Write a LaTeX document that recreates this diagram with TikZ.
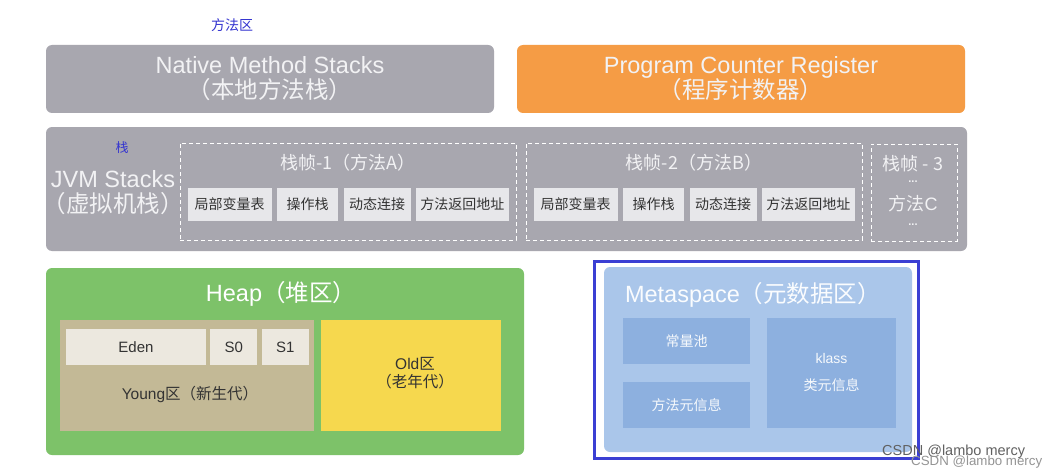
\documentclass[tikz,border=0pt]{standalone}
\usepackage{fontspec}
\setmainfont{Liberation Sans}
\newfontfamily\cjk{Noto Sans CJK SC}
\newcommand{\zh}[1]{{\cjk #1}}
\usepackage{tikz}
\usetikzlibrary{positioning}
\usepackage{xcolor}

\definecolor{boxgray}{HTML}{A8A7AF}
\definecolor{pcorange}{HTML}{F59C45}
\definecolor{heapgreen}{HTML}{7DC269}
\definecolor{younggray}{HTML}{C3B996}
\definecolor{edenfill}{HTML}{ECE8DF}
\definecolor{oldyellow}{HTML}{F6D84E}
\definecolor{metafill}{HTML}{AAC6EA}
\definecolor{metabox}{HTML}{8DB0DF}
\definecolor{frameblue}{HTML}{3B3FD3}
\definecolor{slotfill}{HTML}{E7E7EA}
\definecolor{labelblue}{HTML}{3535D0}
\definecolor{textlight}{HTML}{F2F2F4}

\begin{document}
\begin{tikzpicture}[x=1pt,y=-1pt,
  region/.style={rounded corners=6pt,inner sep=0pt,align=center,text=textlight},
  bigtext/.style={font=\fontsize{23.5}{25}\selectfont},
  stackframe/.style={draw=white,dash pattern=on 4pt off 3pt,line width=1pt,inner sep=0pt,minimum height=97pt},
  frametitle/.style={text=textlight,inner sep=0pt,font=\cjk\fontsize{18}{18}\selectfont},
  framedots/.style={text=textlight,inner sep=0pt,font=\bfseries\fontsize{11}{11}\selectfont},
  frameslot/.style={fill=slotfill,inner sep=0pt,minimum height=33pt,text=black!80,font=\cjk\fontsize{14}{14}\selectfont},
  genbox/.style={fill=edenfill,inner sep=0pt,minimum height=36pt,text=black!80,font=\fontsize{15}{15}\selectfont},
  metaslot/.style={fill=metabox,inner sep=0pt,text=white!92!metabox,align=center,font=\cjk\fontsize{14}{27}\selectfont},
  bluelabel/.style={text=labelblue,inner sep=0pt,font=\cjk\fontsize{14}{14}\selectfont}]
  \useasboundingbox (0,0) rectangle (1056,468);
  \fill[white] (0,0) rectangle (1056,468);

  % top row
  \node[bluelabel] (methodarea) at (232,25) {方法区};
  \node[region,bigtext,fill=boxgray,minimum width=448pt,minimum height=68pt] (native) at (270,79)
    {Native Method Stacks\\\zh{（本地方法栈）}};
  \node[region,bigtext,fill=pcorange,minimum width=448pt,minimum height=68pt] (pcr) at (741,79)
    {Program Counter Register\\\zh{（程序计数器）}};

  % JVM stacks
  \node[region,fill=boxgray,minimum width=921pt,minimum height=124pt] (jvm) at (506.5,189) {};
  \node[bluelabel,font=\cjk\fontsize{13}{13}\selectfont] (stacklabel) at (122,148) {栈};
  \node[region,bigtext] (jvmtext) at (113,193) {JVM Stacks\\\zh{（虚拟机栈）}};
  \foreach \i/\x/\m in {1/348/A,2/694/B}{
    \node[stackframe,minimum width=336pt] (frame\i) at (\x,191.5) {};
    \node[frametitle] (ftitle\i) at ([yshift=-20pt]frame\i.north) {栈帧-\i（方法\m）};
    \node[frameslot,minimum width=84pt,anchor=west] (local\i) at ([xshift=8pt,yshift=-13pt]frame\i.west) {局部变量表};
    \node[frameslot,minimum width=61pt,right=5pt of local\i] (oper\i) {操作栈};
    \node[frameslot,minimum width=67pt,right=5pt of oper\i] (link\i) {动态连接};
    \node[frameslot,minimum width=93pt,right=5pt of link\i] (ret\i) {方法返回地址};
  }
  \node[stackframe,minimum width=86pt] (frame3) at (914,192.5) {};
  \node[frametitle] (ftitle3) at (913,164) {栈帧 - 3};
  \node[framedots] (fdots1) at (913,182) {...};
  \node[frametitle] (fname3) at (913,204) {方法\textrm{C}};
  \node[framedots] (fdots2) at (913,225) {...};

  % heap
  \node[region,fill=heapgreen,minimum width=478pt,minimum height=187pt] (heap) at (285,361.5) {};
  \node[region,bigtext,text=white] (heaptitle) at (281,294) {Heap\zh{（堆区）}};
  \node[fill=younggray,inner sep=0pt,minimum width=254pt,minimum height=111pt] (young) at (187,375.5) {};
  \node[genbox,minimum width=140pt] (eden) at (136,347) {Eden};
  \node[genbox,minimum width=47pt,right=4pt of eden] (szero) {S0};
  \node[genbox,minimum width=47pt,right=4pt of szero] (sone) {S1};
  \node[inner sep=0pt,text=black!80,font=\fontsize{15.5}{15.5}\selectfont] (younglabel) at (190,394)
    {Young\zh{区（新生代）}};
  \node[fill=oldyellow,inner sep=0pt,minimum width=180pt,minimum height=111pt] (old) at (411,375.5) {};
  \node[inner sep=0pt,align=center,text=black!80,font=\fontsize{15.5}{18}\selectfont] (oldlabel) at (415,373)
    {Old\zh{区}\\\zh{（老年代）}};

  % metaspace
  \node[region,fill=metafill,minimum width=308pt,minimum height=185pt] (meta) at (758,359.5) {};
  \node[draw=frameblue,line width=3pt,inner sep=0pt,minimum width=324pt,minimum height=197pt] (metaframe) at (756,359.5) {};
  \node[region,bigtext,text=white!94!metafill] (metatitle) at (753,295) {Metaspace\zh{（元数据区）}};
  \node[metaslot,minimum width=127pt,minimum height=46pt] (constpool) at (686.5,341) {常量池};
  \node[metaslot,minimum width=127pt,minimum height=46pt] (methodmeta) at (686.5,405) {方法元信息};
  \node[metaslot,minimum width=129pt,minimum height=110pt] (klass) at (831.5,373) {\textrm{klass}\\类元信息};

  % watermark
  \node[anchor=west,inner sep=0pt,text=black!62,font=\fontsize{14.5}{14.5}\selectfont] (mark1) at (882,452) {CSDN @lambo mercy};
  \node[anchor=west,inner sep=0pt,text=black!42,font=\fontsize{13.3}{13.3}\selectfont] (mark2) at (911,462) {CSDN @lambo mercy};
\end{tikzpicture}
\end{document}
